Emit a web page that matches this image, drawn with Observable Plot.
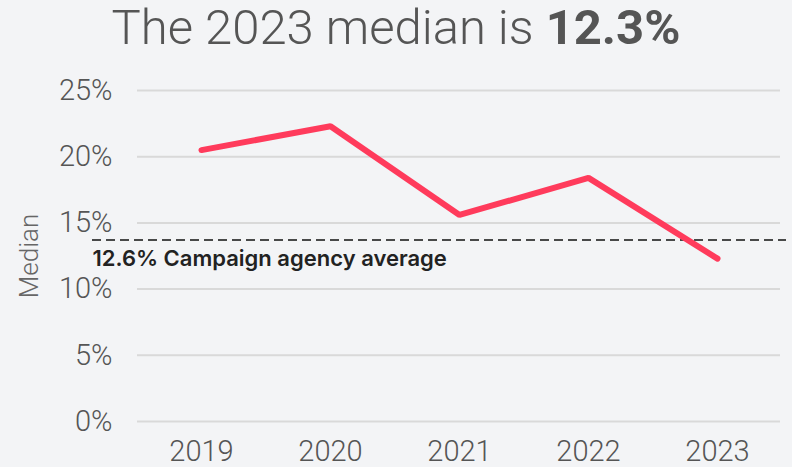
<!DOCTYPE html>
<html>
<head>
<meta charset="utf-8">
<script src="https://cdn.jsdelivr.net/npm/d3@7"></script>
<script src="https://cdn.jsdelivr.net/npm/@observablehq/plot@0.6"></script>
<style>
  html, body { margin: 0; padding: 0; background: #f3f4f6; }
  body { width: 792px; height: 467px; overflow: hidden; font-family: Roboto, Inter, sans-serif; }
  #title { height: 60px; line-height: 56px; text-align: center; font-size: 49px; font-weight: 300; color: #555; }
  #title b { font-weight: 700; }
  #chart svg { display: block; }
</style>
</head>
<body>
<div id="title">The 2023 median is <b>12.3%</b></div>
<div id="chart"></div>
<script>
const years = ["2019", "2020", "2021", "2022", "2023"];
const medians = [20.5, 22.3, 15.6, 18.4, 12.3];
const yTicks = [0, 5, 10, 15, 20, 25];
const averageValue = 12.6;
const averageLineAt = 13.7;
const averageLabel = "12.6% Campaign agency average";

const data = years.map((year, i) => ({year, value: medians[i]}));

const chart = Plot.plot({
  width: 792,
  height: 407,
  marginTop: 30,
  marginBottom: 46,
  marginLeft: 137,
  marginRight: 12,
  style: {background: "#f3f4f6", fontFamily: "Roboto, Inter, sans-serif", overflow: "visible"},
  x: {type: "point", domain: years, padding: 0.49, label: null},
  y: {domain: [0, 25], ticks: yTicks, label: null},
  marks: [
    Plot.gridY(yTicks, {stroke: "#d9d9d9", strokeOpacity: 1, strokeWidth: 2}),
    Plot.axisY(yTicks, {tickSize: 0, tickPadding: 25, tickFormat: d => d + "%", fontSize: 29, fontWeight: 300, fill: "#555", label: null}),
    Plot.axisX(years, {tickSize: 0, tickPadding: 19, fontSize: 29, fontWeight: 300, fill: "#555", label: null}),
    Plot.ruleY([averageLineAt], {stroke: "#111", strokeWidth: 1.5, strokeDasharray: "9,5", insetLeft: -45, insetRight: -6}),
    Plot.text([averageLabel], {y: averageLineAt, frameAnchor: "left", dx: -45, dy: 19, textAnchor: "start", fontFamily: "Inter, sans-serif", fontSize: 22, fontWeight: 600, fill: "#222"}),
    Plot.line(data, {x: "year", y: "value", stroke: "#ff3b5c", strokeWidth: 6, strokeLinecap: "round", strokeLinejoin: "miter"}),
    Plot.text(["Median"], {frameAnchor: "middle", rotate: -90, dx: -429, dy: 0, fontSize: 26, fontWeight: 300, fill: "#666"})
  ]
});
document.getElementById("chart").appendChild(chart);
</script>
</body>
</html>
